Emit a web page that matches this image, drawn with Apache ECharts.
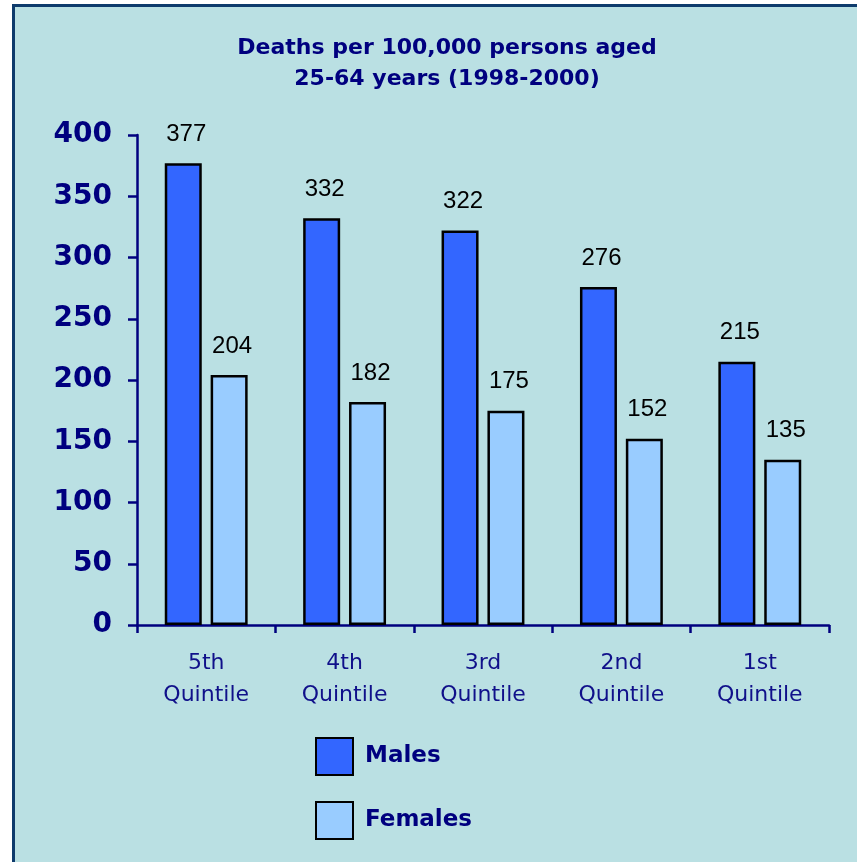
<!DOCTYPE html>
<html lang="en">
<head>
  <meta charset="UTF-8">
  <title>Deaths per 100,000 persons</title>
  <style>
    html, body { margin: 0; padding: 0; background: #fff; }
    #chart { width: 857px; height: 862px; }
  </style>
</head>
<body>
<div id="chart"></div>
<script src="https://cdn.jsdelivr.net/npm/echarts@6/dist/echarts.min.js"></script>
<script>
  var categories = ['5th\nQuintile', '4th\nQuintile', '3rd\nQuintile', '2nd\nQuintile', '1st\nQuintile']
  var males = [377, 332, 322, 276, 215]
  var females = [204, 182, 175, 152, 135]
  var yTicks = [0, 50, 100, 150, 200, 250, 300, 350, 400]

  var navy = '#00007f'
  var myChart = echarts.init(document.getElementById('chart'), null, { renderer: 'canvas' })

  // value labels above the bars
  var valueLabel = {
    show: true,
    position: 'top',
    distance: 17,
    offset: [3, 0],
    fontFamily: 'Liberation Sans',
    fontSize: 24,
    color: '#000'
  }

  var option = {
    backgroundColor: '#ffffff',
    animation: false,
    graphic: [
      {
        type: 'rect',
        z: -10,
        shape: { x: 13.5, y: 5.5, width: 860, height: 870 },
        style: { fill: '#bae0e3', stroke: '#0e3b6c', lineWidth: 3 }
      }
    ],
    title: {
      text: 'Deaths per 100,000 persons aged\n25-64 years (1998-2000)',
      left: 447,
      top: 33,
      textAlign: 'center',
      padding: 0,
      textStyle: {
        fontFamily: 'DejaVu Sans',
        fontWeight: 'bold',
        fontSize: 22,
        lineHeight: 31,
        color: navy
      }
    },
    legend: {
      orient: 'vertical',
      left: 315,
      top: 737,
      padding: 0,
      itemWidth: 37,
      itemHeight: 37,
      itemGap: 25,
      icon: 'rect',
      textStyle: {
        fontFamily: 'DejaVu Sans',
        fontWeight: 'bold',
        fontSize: 23,
        color: navy,
        padding: [0, 0, 0, 7]
      },
      data: ['Males', 'Females']
    },
    grid: {
      left: 137,
      right: 28,
      top: 135,
      bottom: 237,
      containLabel: false
    },
    xAxis: {
      type: 'category',
      data: categories,
      axisLine: { lineStyle: { color: navy, width: 2.5 } },
      axisTick: { show: true, length: 8, lineStyle: { color: navy, width: 2.5 } },
      axisLabel: {
        margin: 22,
        fontFamily: 'DejaVu Sans',
        fontSize: 22,
        lineHeight: 32,
        color: '#10108a'
      }
    },
    yAxis: {
      type: 'value',
      min: yTicks[0],
      max: yTicks[yTicks.length - 1],
      interval: 50,
      splitLine: { show: false },
      axisLine: { show: true, lineStyle: { color: navy, width: 2.5 } },
      axisTick: { show: true, length: 9, lineStyle: { color: navy, width: 2.5 } },
      axisLabel: {
        margin: 25,
        fontFamily: 'DejaVu Sans',
        fontWeight: 'bold',
        fontSize: 28,
        color: navy
      }
    },
    series: [
      {
        name: 'Males',
        type: 'bar',
        data: males,
        barWidth: 37,
        barGap: '24%',
        itemStyle: { color: '#3366ff', borderColor: '#000', borderWidth: 2.5 },
        label: valueLabel
      },
      {
        name: 'Females',
        type: 'bar',
        data: females,
        barWidth: 37,
        itemStyle: { color: '#99ccff', borderColor: '#000', borderWidth: 2.5 },
        label: valueLabel
      }
    ]
  }

  myChart.setOption(option)
  window.addEventListener('resize', myChart.resize)
</script>
</body>
</html>
